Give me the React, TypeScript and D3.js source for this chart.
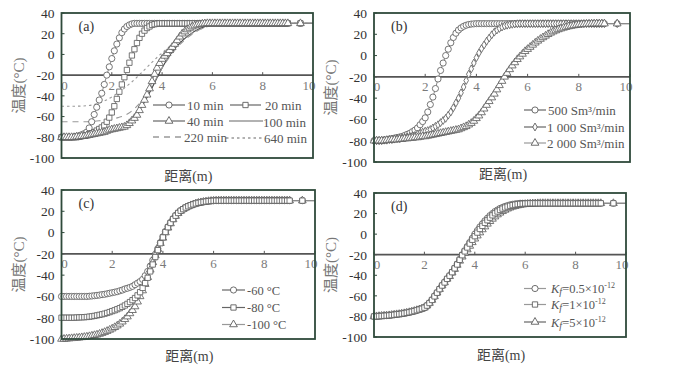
import React from 'react';
import * as d3 from 'd3';

// distance along the pipe (m); same sampling for every marker series
const xs = [
  0, 0.1, 0.2, 0.3, 0.4, 0.5, 0.6, 0.7, 0.8, 0.9,
  1, 1.1, 1.2, 1.3, 1.4, 1.5, 1.6, 1.7, 1.8, 1.9,
  2, 2.1, 2.2, 2.3, 2.4, 2.5, 2.6, 2.7, 2.8, 2.9,
  3, 3.1, 3.2, 3.3, 3.4, 3.5, 3.6, 3.7, 3.8, 3.9,
  4, 4.1, 4.2, 4.3, 4.4, 4.5, 4.6, 4.7, 4.8, 4.9,
  5, 5.1, 5.2, 5.3, 5.4, 5.5, 5.6, 5.7, 5.8, 5.9,
  6, 6.1, 6.2, 6.3, 6.4, 6.5, 6.6, 6.7, 6.8, 6.9,
  7, 7.1, 7.2, 7.3, 7.4, 7.5, 7.6, 7.7, 7.8, 7.9,
  8, 8.1, 8.2, 8.3, 8.4, 8.5, 8.6, 8.7, 8.8, 8.9,
  9, 9.5, 10,
];

// x positions for the plain lines of panel (a)
const lineXs = [0, 0.5, 1, 1.5, 2, 2.25, 2.5, 2.75, 3, 3.25, 3.5, 3.75, 4, 4.25, 4.5, 5, 5.5, 6, 7, 8, 9, 10];

const yTicks = [40, 20, 0, -20, -40, -60, -80, -100];
const xTicks = [0, 2, 4, 6, 8, 10];

// ---- (a) time
const a10 = [
  -80, -80, -80, -80, -80, -79.5, -79, -78.5, -77.5, -76.5,
  -75, -71, -65, -58, -51, -44, -37.5, -29, -20, -12,
  -4, 3.5, 10, 16, 21, 24.5, 27, 28.5, 29.5, 30,
  30, 30, 30, 30, 30, 30, 30, 30, 30, 30,
  30, 30, 30, 30, 30, 30, 30, 30, 30, 30,
  30, 30, 30, 30, 30, 30, 30, 30, 30, 30,
  30, 30, 30, 30, 30, 30, 30, 30, 30, 30,
  30, 30, 30, 30, 30, 30, 30, 30, 30, 30,
  30, 30, 30, 30, 30, 30, 30, 30, 30, 30,
  30, 30, 30,
];
const a20 = [
  -80, -80, -80, -80, -80, -80, -80, -79.5, -79, -78.5,
  -78, -77, -76, -75, -73.5, -72, -70.5, -68.5, -65, -61,
  -56, -50, -43, -36, -29, -22, -15, -8, -1, 5,
  11, 16, 20, 23, 25.5, 27, 28.5, 29.2, 29.7, 30,
  30, 30, 30, 30, 30, 30, 30, 30, 30, 30,
  30, 30, 30, 30, 30, 30, 30, 30, 30, 30,
  30, 30, 30, 30, 30, 30, 30, 30, 30, 30,
  30, 30, 30, 30, 30, 30, 30, 30, 30, 30,
  30, 30, 30, 30, 30, 30, 30, 30, 30, 30,
  30, 30, 30,
];
const a40 = [
  -80, -80, -80, -80, -80, -80, -79.5, -79.5, -79, -79,
  -78.5, -78, -77.5, -77, -76.5, -76, -75.5, -75, -74, -73,
  -72.5, -72, -71.5, -71, -70.5, -70, -68.5, -66.5, -64, -61.5,
  -58.5, -54, -49, -44, -39, -33, -26, -19, -13, -8.5,
  -4.5, -1.5, 1, 4, 7, 10, 13.5, 17, 20, 22,
  24, 25.5, 26.8, 27.8, 28.5, 29, 29.5, 29.8, 30, 30,
  30, 30, 30, 30, 30, 30, 30, 30, 30, 30,
  30, 30, 30, 30, 30, 30, 30, 30, 30, 30,
  30, 30, 30, 30, 30, 30, 30, 30, 30, 30,
  30, 30, 30,
];
const a100 = [-78, -78, -77.5, -76, -73, -71, -68, -63.5, -57, -48, -37, -25, -13, -3, 5.5, 17.5, 25, 28.5, 30, 30, 30, 30];
const a220 = [-65, -65, -65, -64, -62.5, -61, -59, -55.5, -50, -43, -34, -24, -13, -4, 4, 16, 24, 28, 30, 30, 30, 30];
const a640 = [-50, -50, -49.5, -47, -41, -37, -32.5, -27.5, -22, -16, -10, -4, 1.5, 6.5, 11, 18, 24, 28, 30, 30, 30, 30];

// ---- (b) gas flow
const b500 = [
  -80, -80, -80, -79.5, -79.5, -79, -78.5, -78, -77.5, -77,
  -76.5, -76, -75, -74, -73, -71.5, -70, -68, -65, -62,
  -58.5, -53, -46, -39, -31, -22, -14, -7, 0, 6,
  12, 17, 21, 24, 26, 27.5, 28.5, 29.2, 29.6, 29.8,
  30, 30, 30, 30, 30, 30, 30, 30, 30, 30,
  30, 30, 30, 30, 30, 30, 30, 30, 30, 30,
  30, 30, 30, 30, 30, 30, 30, 30, 30, 30,
  30, 30, 30, 30, 30, 30, 30, 30, 30, 30,
  30, 30, 30, 30, 30, 30, 30, 30, 30, 30,
  30, 30, 30,
];
const b1000 = [
  -80, -80, -80, -80, -79.5, -79.5, -79, -79, -78.5, -78,
  -78, -77.5, -77, -76.5, -76, -75.5, -75, -74, -73, -72,
  -71, -70.5, -69.5, -68, -66.5, -65, -63, -61, -59, -56,
  -53, -49, -44.5, -40, -35, -29.5, -23.5, -17.5, -12.5, -7,
  -2, 2.5, 6.5, 10, 13.5, 16.5, 19.5, 22, 24, 25.5,
  26.8, 27.8, 28.5, 29, 29.4, 29.7, 29.9, 30, 30, 30,
  30, 30, 30, 30, 30, 30, 30, 30, 30, 30,
  30, 30, 30, 30, 30, 30, 30, 30, 30, 30,
  30, 30, 30, 30, 30, 30, 30, 30, 30, 30,
  30, 30, 30,
];
const b2000 = [
  -80, -80, -80, -80, -80, -79.5, -79.5, -79, -79, -79,
  -78.5, -78.5, -78, -78, -77.5, -77.5, -77, -77, -76.5, -76,
  -76, -75.5, -75, -74.5, -74, -73.5, -73, -72.5, -72, -71.5,
  -71, -70.5, -70, -69.5, -68.5, -67.5, -66.5, -65, -63.5, -61.5,
  -59, -56.5, -53.5, -50, -46.5, -43, -39.5, -36, -32, -28,
  -24, -20, -16.5, -13, -9.5, -6.5, -3.5, -1, 1.5, 4,
  6, 8, 10, 12, 13.8, 15.5, 17, 18.5, 20, 21.3,
  22.5, 23.5, 24.5, 25.3, 26, 26.7, 27.3, 27.8, 28.2, 28.6,
  29, 29.2, 29.4, 29.6, 29.7, 29.8, 29.9, 30, 30, 30,
  30, 30, 30,
];

// ---- (c) inlet temperature
const cM60 = [
  -60, -60, -60, -60, -60, -60, -60, -60, -60, -60,
  -60, -59.8, -59.6, -59.3, -59, -58.7, -58.3, -58, -57.5, -57,
  -56.5, -56, -55.5, -54.7, -54, -53, -52.3, -51.5, -50.5, -49,
  -47.5, -46, -44, -40.5, -36.5, -31.5, -26, -20.5, -15, -9.5,
  -4, 1, 5.5, 9.5, 13, 16, 18.5, 20.5, 22, 23.5,
  24.7, 25.7, 26.5, 27.3, 27.9, 28.4, 28.8, 29.2, 29.5, 29.7,
  29.9, 30, 30, 30, 30, 30, 30, 30, 30, 30,
  30, 30, 30, 30, 30, 30, 30, 30, 30, 30,
  30, 30, 30, 30, 30, 30, 30, 30, 30, 30,
  30, 30, 30,
];
const cM80 = [
  -80, -80, -80, -80, -80, -80, -79.8, -79.7, -79.6, -79.5,
  -79.3, -79, -78.7, -78.3, -77.8, -77.3, -76.8, -76.2, -75.5, -74.7,
  -73.8, -73, -72, -71, -69.8, -68.5, -67, -65.3, -63.5, -61.5,
  -59, -56, -52, -47.5, -42.5, -36.5, -30, -23, -16.5, -10,
  -4.5, 0.5, 5, 9, 12.7, 15.8, 18.4, 20.5, 22, 23.5,
  24.7, 25.7, 26.5, 27.3, 27.9, 28.4, 28.8, 29.2, 29.5, 29.7,
  29.9, 30, 30, 30, 30, 30, 30, 30, 30, 30,
  30, 30, 30, 30, 30, 30, 30, 30, 30, 30,
  30, 30, 30, 30, 30, 30, 30, 30, 30, 30,
  30, 30, 30,
];
const cM100 = [
  -100, -100, -99.8, -99.6, -99.4, -99.2, -99, -98.8, -98.5, -98.2,
  -97.9, -97.5, -97, -96.5, -96, -95.3, -94.5, -93.6, -92.6, -91.5,
  -90.3, -89, -87.5, -85.8, -83.8, -81.5, -79, -76, -73, -69.5,
  -65, -60, -54.5, -48.5, -42, -35, -28, -21.5, -15.5, -10,
  -5, 0, 4.5, 8.5, 12.3, 15.5, 18.2, 20.3, 22, 23.3,
  24.5, 25.5, 26.4, 27.2, 27.8, 28.3, 28.7, 29.1, 29.4, 29.6,
  29.8, 29.9, 30, 30, 30, 30, 30, 30, 30, 30,
  30, 30, 30, 30, 30, 30, 30, 30, 30, 30,
  30, 30, 30, 30, 30, 30, 30, 30, 30, 30,
  30, 30, 30,
];

// ---- (d) permeability Kf
const dK05 = [
  -80, -80, -79.8, -79.6, -79.4, -79.2, -79, -78.7, -78.4, -78,
  -77.8, -77.4, -77, -76.5, -76, -75.4, -74.8, -74, -73.3, -72.5,
  -71.5, -69.5, -67, -64, -60.5, -57, -53.5, -50, -47, -43.5,
  -40.5, -37, -33, -29, -24.5, -20, -16, -12, -8, -4,
  0, 3.5, 7, 10, 13, 15.5, 18, 20, 22, 23.5,
  25, 26, 27, 27.8, 28.5, 29, 29.4, 29.7, 30, 30,
  30, 30, 30, 30, 30, 30, 30, 30, 30, 30,
  30, 30, 30, 30, 30, 30, 30, 30, 30, 30,
  30, 30, 30, 30, 30, 30, 30, 30, 30, 30,
  30, 30, 30,
];
const dK1 = [
  -80, -80, -79.8, -79.6, -79.4, -79.2, -79, -78.7, -78.4, -78,
  -77.8, -77.4, -77, -76.5, -76, -75.4, -74.8, -74, -73.3, -72.5,
  -71.5, -69.5, -67, -64, -60.5, -57, -53.5, -50, -47, -43.5,
  -40.5, -37, -33.3, -29.5, -25, -20.5, -16.8, -13, -9.2, -5.5,
  -2, 1.5, 5, 8, 11, 13.5, 16, 18.3, 20.3, 22,
  23.5, 24.8, 25.9, 26.8, 27.6, 28.2, 28.7, 29.1, 29.4, 29.6,
  29.8, 29.9, 30, 30, 30, 30, 30, 30, 30, 30,
  30, 30, 30, 30, 30, 30, 30, 30, 30, 30,
  30, 30, 30, 30, 30, 30, 30, 30, 30, 30,
  30, 30, 30,
];
const dK5 = [
  -80, -80, -79.8, -79.6, -79.4, -79.2, -79, -78.7, -78.4, -78,
  -77.8, -77.4, -77, -76.5, -76, -75.4, -74.8, -74, -73.3, -72.5,
  -71.5, -69.5, -67, -64, -60.5, -57, -53.5, -50, -47, -43.5,
  -41, -37.5, -34, -30, -26, -22, -18.5, -15, -11.5, -8,
  -4.5, -1.5, 1.5, 4.5, 7.3, 10, 12.5, 14.8, 17, 19,
  20.7, 22.2, 23.5, 24.7, 25.7, 26.5, 27.2, 27.8, 28.3, 28.7,
  29, 29.3, 29.5, 29.7, 29.8, 29.9, 30, 30, 30, 30,
  30, 30, 30, 30, 30, 30, 30, 30, 30, 30,
  30, 30, 30, 30, 30, 30, 30, 30, 30, 30,
  30, 30, 30,
];

const SERIF = "'Liberation Serif', 'Times New Roman', 'Noto Sans CJK SC', serif";
const FRAME = '#2f4a3b';
const LINE = '#8a8a8a';
const MARK = '#5e5e5e';

const symbolFor = (m) => {
  if (m === 'circle') return d3.symbol().type(d3.symbolCircle).size(30)();
  if (m === 'square') return d3.symbol().type(d3.symbolSquare).size(28)();
  if (m === 'triangle') return d3.symbol().type(d3.symbolTriangle).size(26)();
  if (m === 'diamond') return d3.symbol().type(d3.symbolDiamond).size(18)();
  return null;
};

function LegendRow({ item }) {
  const path = symbolFor(item.marker);
  const mx = (item.x1 + item.x2) / 2;
  return (
    <g>
      <line x1={item.x1} x2={item.x2} y1={item.y} y2={item.y}
        stroke={item.color || '#666'} strokeWidth={1.2} strokeDasharray={item.dash || null} />
      {path && (
        <path d={path} transform={`translate(${mx},${item.y})`} fill="#fff" stroke={MARK} strokeWidth={0.9} />
      )}
      <text x={item.tx} y={item.ty ?? item.y + 4.5} fontSize={item.fs || 13} fill="#555" fontFamily={SERIF}>
        {item.label}
      </text>
    </g>
  );
}

function Panel({ box, tag, series, lines = [], legend, xTitleY }) {
  const { left, right, top, bottom } = box;
  const x = d3.scaleLinear().domain([0, 10]).range([left, right]);
  const y = d3.scaleLinear().domain([-100, 40]).range([bottom, top]);
  const y20 = y(-20);

  const markerLine = d3.line().x((d) => x(d[0])).y((d) => y(d[1]));
  const smoothLine = d3.line().x((d) => x(d[0])).y((d) => y(d[1])).curve(d3.curveMonotoneX);

  return (
    <g>
      <rect x={left} y={top} width={right - left} height={bottom - top} fill="#fff" />

      {/* y tick labels + inner ticks */}
      {yTicks.map((t) => (
        <g key={t}>
          <text x={left - 7} y={y(t)} dy="0.36em" textAnchor="end" fontSize={13.5} fill="#333" fontFamily={SERIF}>
            {t}
          </text>
          <line x1={left} x2={left + 3} y1={y(t)} y2={y(t)} stroke={FRAME} strokeWidth={1} />
        </g>
      ))}

      {/* x axis sits on -20 */}
      <line x1={left} x2={right} y1={y20} y2={y20} stroke="#555" strokeWidth={1.7} />
      {xTicks.map((t) => {
        const px = Math.max(left + 3, Math.min(right - 4, x(t)));
        return (
          <g key={t}>
            <line x1={x(t)} x2={x(t)} y1={y20} y2={y20 - 3} stroke="#555" strokeWidth={1} />
            <text x={px} y={y20 + 14.5} textAnchor="middle" fontSize={13} fill="#7a7a7a" fontFamily={SERIF}>
              {t}
            </text>
          </g>
        );
      })}

      {lines.map((l) => (
        <path key={l.name} d={smoothLine(l.xs.map((v, i) => [v, l.values[i]]))}
          fill="none" stroke={l.color} strokeWidth={1.1} strokeDasharray={l.dash || null} />
      ))}

      {series.map((s) => {
        const pts = xs.map((v, i) => [v, s.values[i]]);
        const sym = symbolFor(s.marker);
        return (
          <g key={s.name}>
            <path d={markerLine(pts)} fill="none" stroke={LINE} strokeWidth={1} />
            {pts.slice(0, -1).map((p, i) => (
              <path key={i} d={sym} transform={`translate(${x(p[0])},${y(p[1])})`}
                fill="#fff" stroke={MARK} strokeWidth={0.85} />
            ))}
          </g>
        );
      })}

      <rect x={left} y={top} width={right - left} height={bottom - top} fill="none" stroke={FRAME} strokeWidth={1.8} />

      <text x={left + 17} y={top + 18} fontSize={14} fill="#333" fontFamily={SERIF}>{tag}</text>

      {legend.map((item, i) => <LegendRow key={i} item={item} />)}

      <text transform={`translate(${left - 38},${(top + bottom) / 2}) rotate(-90)`} textAnchor="middle"
        fontSize={15} fill="#777" fontFamily={SERIF}>
        温度(°C)
      </text>
      <text x={(left + right) / 2 + 1} y={xTitleY} textAnchor="middle" fontSize={14} fill="#444" fontFamily={SERIF}>
        距离(m)
      </text>
    </g>
  );
}

const kf = (coef) => (
  <>
    <tspan fontStyle="italic">K</tspan>
    <tspan fontStyle="italic" fontSize={10} dy={2}>f</tspan>
    <tspan dy={-2}>{`=${coef}×10`}</tspan>
    <tspan fontSize={8} dy={-5}>-12</tspan>
  </>
);

export default function App() {
  const legendA = [
    { label: '10 min', marker: 'circle', x1: 153, x2: 185, y: 105, tx: 187 },
    { label: '20 min', marker: 'square', x1: 230, x2: 261, y: 105, tx: 265 },
    { label: '40 min', marker: 'triangle', x1: 153, x2: 185, y: 121, tx: 187 },
    { label: '100 min', x1: 229, x2: 263, y: 121, tx: 263, ty: 126.5 },
    { label: '220 min', x1: 153, x2: 183, y: 137, tx: 184, dash: '6,5' },
    { label: '640 min', x1: 226, x2: 262, y: 138, tx: 264, ty: 142.5, dash: '2.5,3' },
  ];
  const legendB = [
    { label: '500 Sm³/min', marker: 'circle', x1: 524, x2: 546, y: 110, tx: 548 },
    { label: '1 000 Sm³/min', marker: 'diamond', x1: 524, x2: 546, y: 127, tx: 547 },
    { label: '2 000 Sm³/min', marker: 'triangle', x1: 524, x2: 546, y: 143, tx: 547, color: '#999' },
  ];
  const legendC = [
    { label: '-60 °C', marker: 'circle', x1: 222, x2: 245, y: 290, tx: 247, fs: 12.5 },
    { label: '-80 °C', marker: 'square', x1: 222, x2: 245, y: 307.5, tx: 247, fs: 12.5 },
    { label: '-100 °C', marker: 'triangle', x1: 222, x2: 245, y: 324.5, tx: 247, fs: 12.5, color: '#999' },
  ];
  const legendD = [
    { label: kf('0.5'), marker: 'circle', x1: 524, x2: 546, y: 288.5, tx: 551, fs: 12.5, color: '#999' },
    { label: kf('1'), marker: 'square', x1: 524, x2: 546, y: 304.5, tx: 551, fs: 12.5, color: '#999' },
    { label: kf('5'), marker: 'triangle', x1: 524, x2: 546, y: 322, tx: 551, fs: 12.5 },
  ];

  return (
    <>
      <style>{'body{margin:0;background:#fff}'}</style>
      <svg width={674} height={368} style={{ display: 'block' }}>
        <rect width={674} height={368} fill="#fff" />
        <Panel
          box={{ left: 61.5, right: 313, top: 13, bottom: 158 }}
          tag="(a)"
          xTitleY={181}
          series={[
            { name: '10 min', values: a10, marker: 'circle' },
            { name: '20 min', values: a20, marker: 'square' },
            { name: '40 min', values: a40, marker: 'triangle' },
          ]}
          lines={[
            { name: '100 min', xs: lineXs, values: a100, color: '#444' },
            { name: '220 min', xs: lineXs, values: a220, color: '#999', dash: '6,5' },
            { name: '640 min', xs: lineXs, values: a640, color: '#999', dash: '2.5,3' },
          ]}
          legend={legendA}
        />
        <Panel
          box={{ left: 374, right: 630, top: 13, bottom: 162 }}
          tag="(b)"
          xTitleY={179}
          series={[
            { name: '500', values: b500, marker: 'circle' },
            { name: '1000', values: b1000, marker: 'diamond' },
            { name: '2000', values: b2000, marker: 'triangle' },
          ]}
          legend={legendB}
        />
        <Panel
          box={{ left: 61.5, right: 315, top: 190, bottom: 339 }}
          tag="(c)"
          xTitleY={361}
          series={[
            { name: '-60', values: cM60, marker: 'circle' },
            { name: '-100', values: cM100, marker: 'triangle' },
            { name: '-80', values: cM80, marker: 'square' },
          ]}
          legend={legendC}
        />
        <Panel
          box={{ left: 374, right: 626, top: 193, bottom: 337 }}
          tag="(d)"
          xTitleY={360}
          series={[
            { name: 'K0.5', values: dK05, marker: 'circle' },
            { name: 'K5', values: dK5, marker: 'triangle' },
            { name: 'K1', values: dK1, marker: 'square' },
          ]}
          legend={legendD}
        />
      </svg>
    </>
  );
}
